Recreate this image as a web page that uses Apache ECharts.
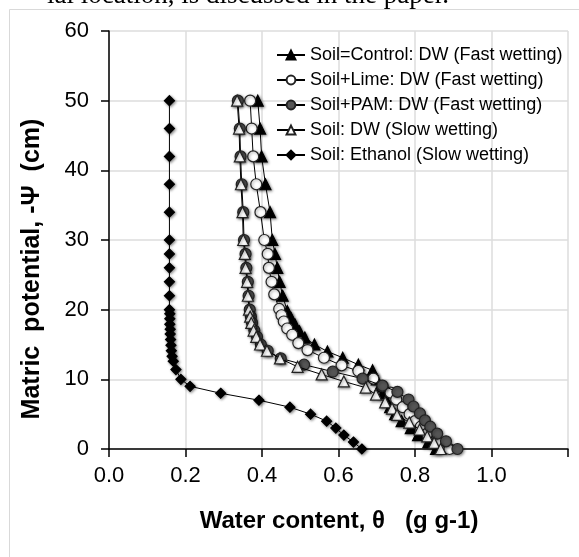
<!DOCTYPE html>
<html>
<head>
<meta charset="utf-8">
<script src="https://cdn.jsdelivr.net/npm/echarts@6/dist/echarts.min.js"></script>
<style>html,body{margin:0;padding:0;background:#fff;}#c{width:579px;height:557px;}</style>
</head>
<body>
<div id="c"></div>
<script>
// ---- data ----
const seriesNames = [
  'Soil=Control: DW (Fast wetting)',
  'Soil+Lime: DW (Fast wetting)',
  'Soil+PAM: DW (Fast wetting)',
  'Soil: DW (Slow wetting)',
  'Soil: Ethanol (Slow wetting)'
];
const xTicks = ['0.0','0.2','0.4','0.6','0.8','1.0'];

const controlTheta = [0.389,0.395,0.399,0.409,0.421,0.427,0.434,0.440,0.446,0.454,0.466,0.476,0.486,0.498,0.512,0.537,0.571,0.611,0.652,0.689,0.700,0.708,0.716,0.725,0.735,0.748,0.765,0.789,0.808,0.835,0.855];
const controlPsi   = [50,46,42,38,34,30,28,26,24,22,19.8,18.8,17.9,16.9,16,15,14,13.1,12.1,11.3,10,9,8,7,6,5,4,3,2,1,0];

const limeTheta = [0.369,0.373,0.377,0.385,0.396,0.406,0.415,0.418,0.425,0.432,0.445,0.451,0.457,0.466,0.479,0.495,0.519,0.562,0.608,0.652,0.691,0.715,0.736,0.751,0.768,0.786,0.800,0.815,0.832,0.858,0.890];
const limePsi   = [50,46,42,38,34,30,28,26,24,22.2,20.1,19.2,18.3,17.3,16.4,15.2,14.2,13.1,12,11.2,10.1,9,8.1,7.1,6,5,4,3.2,2.2,1,0];

const pamTheta = [0.337,0.342,0.344,0.347,0.351,0.353,0.357,0.359,0.363,0.365,0.368,0.371,0.374,0.380,0.387,0.397,0.415,0.449,0.510,0.585,0.663,0.715,0.754,0.783,0.796,0.813,0.826,0.840,0.858,0.881,0.911];
const pamPsi   = [50,46,42,38,34,30,28,26,24,22,20,19,18.1,17,16.1,15,14.1,13,12.1,11.1,10.1,9.1,8.2,7.1,6.1,5.1,4.1,3.2,2.2,1.1,0];

const slowTheta = [0.335,0.340,0.342,0.345,0.349,0.351,0.355,0.357,0.361,0.363,0.366,0.369,0.372,0.378,0.385,0.395,0.413,0.447,0.493,0.556,0.614,0.671,0.698,0.722,0.740,0.753,0.785,0.812,0.832,0.850,0.867];
const slowPsi   = [50,46,42,38,34,30,28,26,24,22,20,19,18.1,17,16.1,15,14.1,13,11.8,10.7,9.7,8.8,7.8,6.7,5.8,4.9,3.8,2.8,1.8,0.9,0];

const ethanolTheta = [0.158,0.158,0.158,0.158,0.158,0.158,0.158,0.158,0.158,0.158,0.158,0.159,0.159,0.159,0.160,0.160,0.161,0.162,0.163,0.165,0.168,0.175,0.188,0.212,0.292,0.392,0.473,0.527,0.569,0.593,0.614,0.639,0.661];
const ethanolPsi   = [50,46,42,38,34,30,28,26,24,22,20,19.4,18.7,17.9,17.2,16.5,15.7,14.9,14.1,13.3,12.6,11.4,10,9,8,7,6,5,4,3,2,1,0];

// ---- chart ----
const zip = (a, b) => a.map((v, i) => [v, b[i]]);
const shadow = { shadowBlur: 3, shadowColor: 'rgba(0,0,0,0.45)', shadowOffsetX: 1, shadowOffsetY: 1 };

const styles = [
  { symbol: 'triangle', size: 11, fill: '#000000', border: '#000000' },
  { symbol: 'circle', size: 11, fill: '#ffffff', border: '#222222' },
  { symbol: 'circle', size: 11, fill: '#555555', border: '#222222' },
  { symbol: 'triangle', size: 11, fill: '#ffffff', border: '#222222' },
  { symbol: 'diamond', size: 10, fill: '#000000', border: '#000000' }
];
const datasets = [
  zip(controlTheta, controlPsi),
  zip(limeTheta, limePsi),
  zip(pamTheta, pamPsi),
  zip(slowTheta, slowPsi),
  zip(ethanolTheta, ethanolPsi)
];

const chart = echarts.init(document.getElementById('c'), null, { renderer: 'canvas' });
const font = 'Liberation Sans, Arial, sans-serif';

chart.setOption({
  animation: false,
  backgroundColor: '#ffffff',
  grid: { left: 109, right: 11, top: 31, bottom: 108 },
  legend: {
    data: seriesNames,
    orient: 'vertical',
    left: 271,
    top: 41,
    padding: 5,
    itemWidth: 28,
    itemHeight: 11,
    itemGap: 7,
    textStyle: { fontFamily: font, fontSize: 18, color: '#000', lineHeight: 18 }
  },
  xAxis: {
    type: 'value', min: 0, max: 1.2, interval: 0.2,
    axisLine: { show: true, lineStyle: { color: '#000', width: 1.5 } },
    axisTick: { show: true, inside: false, length: 8, lineStyle: { color: '#000', width: 1.5 } },
    axisLabel: { margin: 16, fontFamily: font, fontSize: 22, color: '#000',
      formatter: v => { const i = Math.round(v / 0.2); return i < xTicks.length ? xTicks[i] : ''; } },
    splitLine: { show: true, lineStyle: { color: '#dcdcdc', width: 1.5 } }
  },
  yAxis: {
    type: 'value', min: 0, max: 60, interval: 10,
    axisLine: { show: true, lineStyle: { color: '#000', width: 1.5 } },
    axisTick: { show: true, inside: false, length: 8, lineStyle: { color: '#000', width: 1.5 } },
    axisLabel: { margin: 20, fontFamily: font, fontSize: 22, color: '#000' },
    splitLine: { show: true, lineStyle: { color: '#dcdcdc', width: 1.5 } }
  },
  graphic: [
    { type: 'rect', left: 7, top: 7, shape: { width: 600, height: 600 }, style: { fill: 'none', stroke: '#d9d9d9', lineWidth: 1 }, silent: true, z: -1 },
    { type: 'text', x: 47, y: -4, style: { text: 'ial location, is discussed in the paper.', font: '27px "Liberation Serif", serif', fill: '#000', verticalAlign: 'middle' } },
    { type: 'text', x: 339, y: 521, style: { text: 'Water content, \u03b8   (g g-1)', font: 'bold 24px "Liberation Sans", Arial, sans-serif', fill: '#000', align: 'center', verticalAlign: 'middle' } },
    { type: 'text', x: 32, y: 269, rotation: Math.PI / 2, style: { text: 'Matric  potential, -\u03a8  (cm)', font: 'bold 25px "Liberation Sans", Arial, sans-serif', fill: '#000', align: 'center', verticalAlign: 'middle' } }
  ],
  series: seriesNames.map((name, i) => ({
    name,
    type: 'line',
    data: datasets[i],
    symbol: styles[i].symbol,
    symbolSize: styles[i].size,
    showAllSymbol: true,
    lineStyle: { color: '#000', width: 1 },
    itemStyle: Object.assign({ color: styles[i].fill, borderColor: styles[i].border, borderWidth: 1.2 }, shadow),
    z: 2 + i
  }))
});
</script>
</body>
</html>
